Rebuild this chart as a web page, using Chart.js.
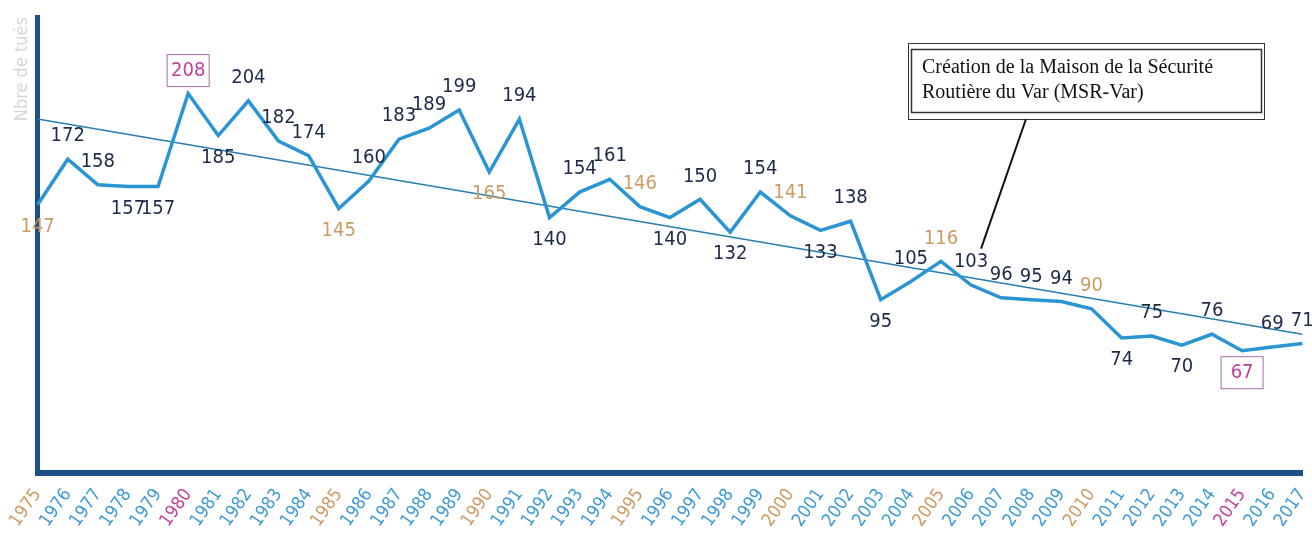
<!DOCTYPE html>
<html>
<head>
<meta charset="utf-8">
<script src="https://cdn.jsdelivr.net/npm/chart.js@4/dist/chart.umd.min.js"></script>
<style>
  html, body { margin: 0; padding: 0; background: #fff; overflow: hidden; }
  #wrap { width: 1332px; height: 539px; position: relative; }
</style>
</head>
<body>
<div id="wrap"><canvas id="graph"></canvas></div>
<script>
// data
const years = ['1975','1976','1977','1978','1979','1980','1981','1982','1983','1984',
  '1985','1986','1987','1988','1989','1990','1991','1992','1993','1994',
  '1995','1996','1997','1998','1999','2000','2001','2002','2003','2004',
  '2005','2006','2007','2008','2009','2010','2011','2012','2013','2014',
  '2015','2016','2017'];
const killed = [147, 172, 158, 157, 157, 208, 185, 204, 182, 174,
  145, 160, 183, 189, 199, 165, 194, 140, 154, 161,
  146, 140, 150, 132, 154, 141, 133, 138, 95, 105,
  116, 103, 96, 95, 94, 90, 74, 75, 70, 76,
  67, 69, 71];
// trend line, only its two ends (1975 and 2017)
const trendEnds = [194, 76];
const tanYears = ['1975','1985','1990','1995','2000','2005','2010'];
const boxedYears = ['1980','2015'];
const yTitle = 'Nbre de tués';
const noteLines = ['Création de la Maison de la Sécurité', 'Routière du Var (MSR-Var)'];
const noteYear = '2006';

const trend = years.map((y, i) => i === 0 ? trendEnds[0] : (i === years.length - 1 ? trendEnds[1] : null));

const narrow = '"DejaVu Sans Condensed", "Liberation Sans Narrow", "Liberation Sans", sans-serif';

function yearColor(yr, normal) {
  if (boxedYears.includes(yr)) return '#c2409a';
  if (tanYears.includes(yr)) return '#cc9a62';
  return normal;
}

/*===== value labels =====*/
const valueLabels = {
  id: 'valueLabels',
  afterDatasetsDraw(chart) {
    const ctx = chart.ctx;
    const meta = chart.getDatasetMeta(0);
    ctx.save();
    ctx.font = 'condensed 20px ' + narrow;
    ctx.textAlign = 'center';
    ctx.textBaseline = 'middle';
    meta.data.forEach((pt, i) => {
      const v = killed[i];
      const prev = i > 0 ? killed[i - 1] : Infinity;
      const next = i < killed.length - 1 ? killed[i + 1] : Infinity;
      const below = v <= prev && v <= next;
      const ty = below ? pt.y + 22 : pt.y - 23;
      const yr = years[i];
      if (boxedYears.includes(yr)) {
        ctx.strokeStyle = '#a86aa8';
        ctx.lineWidth = 1;
        ctx.strokeRect(pt.x - 21, ty - 16, 42, 32);
      }
      ctx.fillStyle = yearColor(yr, '#1b2a48');
      ctx.fillText(String(v), pt.x, ty);
    });
    ctx.restore();
  }
};

/*===== note box =====*/
const noteBox = {
  id: 'noteBox',
  afterDraw(chart) {
    const ctx = chart.ctx;
    const xs = chart.scales.x, ys = chart.scales.y;
    const bx = 908, by = 43, bw = 356, bh = 76;
    ctx.save();
    ctx.fillStyle = '#fff';
    ctx.fillRect(bx, by, bw, bh);
    ctx.strokeStyle = '#333';
    ctx.lineWidth = 1;
    ctx.strokeRect(bx + 0.5, by + 0.5, bw, bh);
    ctx.lineWidth = 1.5;
    ctx.strokeRect(bx + 3.5, by + 6.5, bw - 6, bh - 13);
    ctx.fillStyle = '#111';
    ctx.font = '20px "Liberation Serif", "DejaVu Serif", serif';
    ctx.textBaseline = 'alphabetic';
    ctx.fillText(noteLines[0], bx + 14, by + 30);
    ctx.fillText(noteLines[1], bx + 14, by + 55);
    // pointer toward the 2006 point
    const px = xs.getPixelForValue(years.indexOf(noteYear)) + 10;
    const py = ys.getPixelForValue(123);
    ctx.strokeStyle = '#111';
    ctx.lineWidth = 2;
    ctx.beginPath();
    ctx.moveTo(1026, by + bh);
    ctx.lineTo(px, py);
    ctx.stroke();
    ctx.restore();
  }
};

let graph = document.getElementById('graph').getContext('2d');

new Chart(graph, {
  type: 'line',
  data: {
    labels: years,
    datasets: [
      {
        label: 'Tués',
        data: killed,
        borderColor: '#2b95d3',
        borderWidth: 3.5,
        pointRadius: 0,
        tension: 0
      },
      {
        label: 'Tendance',
        data: trend,
        spanGaps: true,
        borderColor: '#2a7daf',
        borderWidth: 1.5,
        pointRadius: 0
      }
    ]
  },
  options: {
    responsive: true,
    maintainAspectRatio: false,
    animation: false,
    layout: { padding: { left: 10, right: 0, top: 17, bottom: -4 } },
    plugins: {
      legend: { display: false },
      tooltip: { enabled: false }
    },
    scales: {
      x: {
        offset: false,
        grid: { display: false, drawTicks: false },
        border: { display: true, color: '#1d4f8a', width: 6 },
        ticks: {
          autoSkip: false,
          minRotation: 55,
          maxRotation: 55,
          padding: 12,
          font: { family: narrow, size: 18, weight: 'normal condensed' },
          color: (c) => yearColor(years[c.index], '#3d9ad6')
        }
      },
      y: {
        min: 0,
        max: 250,
        grid: { display: false, drawTicks: false },
        border: { display: true, color: '#1d4f8a', width: 5 },
        ticks: { display: false },
        title: {
          display: true,
          text: yTitle,
          align: 'end',
          color: '#d3d7dc',
          font: { family: narrow, size: 18, weight: 'normal condensed' },
          padding: { top: 2, bottom: 4 }
        }
      }
    }
  },
  plugins: [valueLabels, noteBox]
});
</script>
</body>
</html>
